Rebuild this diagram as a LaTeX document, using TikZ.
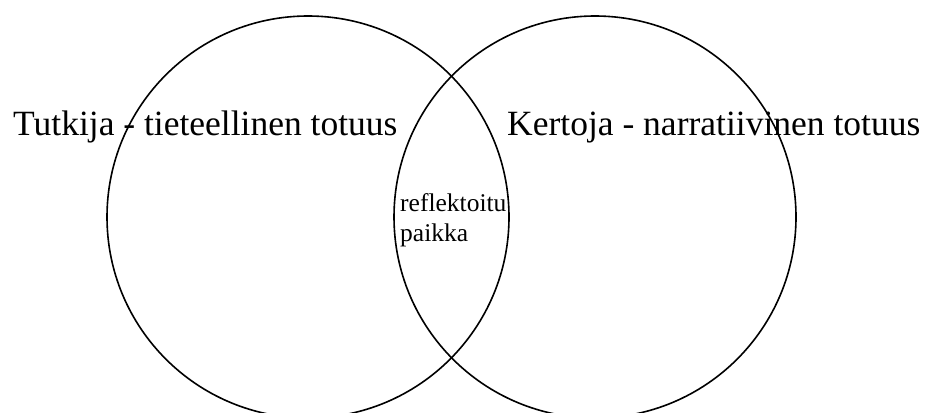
\documentclass[tikz,border=0pt]{standalone}
\usepackage{fontspec}
\setmainfont{Liberation Serif}
\usetikzlibrary{positioning}

\tikzset{
  ring/.style={black, line width=1.6pt},
  bigtext/.style={font=\fontsize{35.5}{40}\selectfont, inner sep=0pt, anchor=base west},
  midtext/.style={font=\fontsize{25.5}{29}\selectfont, inner sep=0pt, anchor=base west}
}

\begin{document}
\begin{tikzpicture}[x=1pt, y=-1pt]
  % page: 928 x 412, y grows downwards as in the picture
  \fill[white] (0,0) rectangle (928,412);
  \useasboundingbox (0,0) rectangle (928,412);
  \clip (0,0) rectangle (928,412);

  % the two circles
  \coordinate (L) at (308,217);
  \coordinate (R) at (595,217);
  \draw[ring] (L) circle (201);
  \draw[ring] (R) circle (201);

  % labels
  \node[bigtext] (tutkija) at (13,135) {Tutkija - tieteellinen totuus};
  \node[bigtext] (kertoja) at (507,135) {Kertoja - narratiivinen totuus};

  % overlap
  \node[midtext] (refl) at (400,211) {reflektoitu};
  \node[midtext] (paikka) at (400,241) {paikka};

\end{tikzpicture}
\end{document}
